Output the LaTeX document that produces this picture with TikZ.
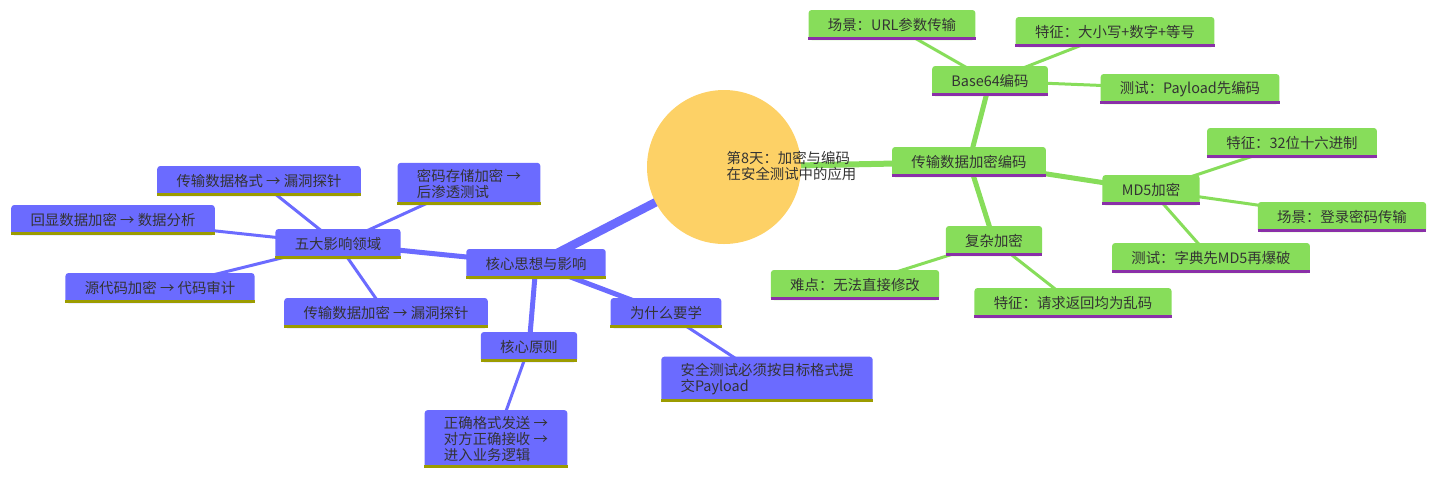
\documentclass[tikz,border=0pt]{standalone}
\usepackage{fontspec}
\setmainfont{Noto Sans CJK SC}
\usetikzlibrary{backgrounds}

\definecolor{mapblue}{HTML}{6B6BFF}
\definecolor{mapgreen}{HTML}{87DD5A}
\definecolor{mapyellow}{HTML}{FDD166}
\definecolor{lineolive}{HTML}{9C9C00}
\definecolor{linepurple}{HTML}{8A2FA8}
\definecolor{maptext}{HTML}{333333}

\begin{document}
\begin{tikzpicture}[x = 0.75pt, y = -0.75pt,
    every node/.style={font=\fontsize{10.8}{11.7}\selectfont, text=maptext},
    mapbox/.style={rectangle, rounded corners=2.25pt, inner xsep=14.5pt,
        inner ysep=5pt, minimum height=22.5pt, align=left},
    bluebox/.style={mapbox, fill=mapblue},
    greenbox/.style={mapbox, fill=mapgreen},
    blueedge/.style={draw=mapblue, line width=#1},
    greenedge/.style={draw=mapgreen, line width=#1}]

            \useasboundingbox (0,0) rectangle (1438,480);

            % root
            \node[circle, fill=mapyellow, minimum size=115.5pt, inner sep=0pt] (root) at (724,167) {};

            % green branch
            \node[greenbox] (tde)   at (969,162)  {传输数据加密编码};
            \node[greenbox] (b64)   at (990,81)   {Base64编码};
            \node[greenbox] (b64a)  at (892,25)   {场景：URL参数传输};
            \node[greenbox] (b64b)  at (1115,32)  {特征：大小写+数字+等号};
            \node[greenbox] (b64c)  at (1190,89)  {测试：Payload先编码};
            \node[greenbox] (md5)   at (1151,190) {MD5加密};
            \node[greenbox] (md5a)  at (1292,143) {特征：32位十六进制};
            \node[greenbox] (md5b)  at (1342,217) {场景：登录密码传输};
            \node[greenbox] (md5c)  at (1211,258) {测试：字典先MD5再爆破};
            \node[greenbox] (cplx)  at (994,241)  {复杂加密};
            \node[greenbox] (cplxa) at (855,285)  {难点：无法直接修改};
            \node[greenbox] (cplxb) at (1073,303) {特征：请求返回均为乱码};

            % blue branch
            \node[bluebox] (core)  at (536,264) {核心思想与影响};
            \node[bluebox] (five)  at (338,244) {五大影响领域};
            \node[bluebox] (fivea) at (259,181) {传输数据格式 → 漏洞探针};
            \node[bluebox] (fiveb) at (469,184) {密码存储加密 →\\后渗透测试};
            \node[bluebox] (fivec) at (113,220) {回显数据加密 → 数据分析};
            \node[bluebox] (fived) at (160,288) {源代码加密 → 代码审计};
            \node[bluebox] (fivee) at (386,313) {传输数据加密 → 漏洞探针};
            \node[bluebox] (rule)  at (529,347) {核心原则};
            \node[bluebox] (rulea) at (496,439) {正确格式发送 →\\对方正确接收 →\\进入业务逻辑};
            \node[bluebox] (why)   at (666,313) {为什么要学};
            \node[bluebox] (whya)  at (767,379) {安全测试必须按目标格式提\\交Payload};

            \foreach \n in {tde,b64,b64a,b64b,b64c,md5,md5a,md5b,md5c,cplx,cplxa,cplxb}
            \draw[linepurple, line width=2.25pt]
                ([yshift=1.1pt]\n.south west) -- ([yshift=1.1pt]\n.south east);

            \foreach \n in {core,five,fivea,fiveb,fivec,fived,fivee,rule,rulea,why,whya}
            \draw[lineolive, line width=2.25pt]
                ([yshift=1.1pt]\n.south west) -- ([yshift=1.1pt]\n.south east);

            \node[anchor=west, align=left] (title) at (722,166) {第8天：加密与编码\\在安全测试中的应用};

            \begin{scope}[on background layer]
            \draw[greenedge=4.5pt] (root.center) -- (tde.center);
            \foreach \n in {b64,md5,cplx}
            \draw[greenedge=3.75pt] (tde.center) -- (\n.center);
            \foreach \n in {b64a,b64b,b64c}
            \draw[greenedge=2.25pt] (b64.center) -- (\n.center);
            \foreach \n in {md5a,md5b,md5c}
            \draw[greenedge=2.25pt] (md5.center) -- (\n.center);
            \foreach \n in {cplxa,cplxb}
            \draw[greenedge=2.25pt] (cplx.center) -- (\n.center);

            \draw[blueedge=6.5pt] (root.center) -- (core.center);
            \foreach \n in {five,rule,why}
            \draw[blueedge=3.75pt] (core.center) -- (\n.center);
            \foreach \n in {fivea,fiveb,fivec,fived,fivee}
            \draw[blueedge=2.25pt] (five.center) -- (\n.center);
            \draw[blueedge=2.25pt] (rule.center) -- (rulea.center);
            \draw[blueedge=2.25pt] (why.center) -- (whya.center);
            \end{scope}
            \end{tikzpicture}
\end{document}
